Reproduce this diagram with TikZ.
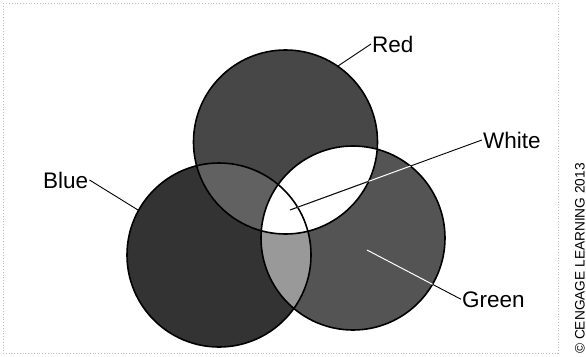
\documentclass[tikz,border=0pt]{standalone}
\usepackage{fontspec}
\setmainfont{Liberation Sans}
\begin{document}
\begin{tikzpicture}[x=1pt,y=-1pt,
  outline/.style={draw=black,line width=1.6pt},
  leader/.style={draw=black,line width=0.9pt},
  leaderw/.style={draw=white,line width=1.1pt},
  lbl/.style={inner sep=1pt,font=\fontsize{22.5}{27}\selectfont,anchor=base west}]
\useasboundingbox (0,0) rectangle (586,356);
\definecolor{blueonly}{gray}{0.2}
\definecolor{redonly}{gray}{0.28}
\definecolor{greenonly}{gray}{0.33}
\definecolor{redblue}{gray}{0.38}
\definecolor{greenblue}{gray}{0.6}
% faint scan border
\draw[black!25,dotted,line width=0.8pt] (3,3) rectangle (558,353);
% circles
\def\rC{(285.5,142) circle[radius=92]}
\def\bC{(219,255) circle[radius=92]}
\def\gC{(353,238) circle[radius=92]}
\fill[blueonly] \bC;
\fill[greenonly] \gC;
\fill[redonly] \rC;
\begin{scope}
  \clip \rC;
  \fill[redblue] \bC;
\end{scope}
\begin{scope}
  \clip \gC;
  \fill[greenblue] \bC;
\end{scope}
\begin{scope}
  \clip \rC;
  \clip \gC;
  \fill[white] (150,40) rectangle (450,340);
\end{scope}
\draw[outline] \rC;
\draw[outline] \bC;
\draw[outline] \gC;
% labels
\node[lbl] (red) at (371,52) {Red};
\node[lbl] (blue) at (42,188) {Blue};
\node[lbl] (white) at (482,148) {White};
\node[lbl] (green) at (461,307) {Green};
\node[inner sep=0pt,rotate=90,anchor=base west,font=\fontsize{13.7}{16}\selectfont] (copy) at (584.5,354) {© CENGAGE LEARNING 2013};
% leader ends
\coordinate (redend) at (338,66);
\coordinate (blueend) at (138,210);
\coordinate (whiteend) at (290,210);
\coordinate (greenend) at (367,250);
\draw[leader] (red.west) -- (redend);
\draw[leader] (blue.east) -- (blueend);
\draw[leader] (white.west) -- (whiteend);
\draw[leader] (green.west) -- (greenend);
\begin{scope}
  \clip \gC;
  \draw[leaderw] (white.west) -- (whiteend);
  \draw[leaderw] (green.west) -- (greenend);
\end{scope}
\begin{scope}
  \clip \rC;
  \draw[leader] (white.west) -- (whiteend);
\end{scope}
\end{tikzpicture}
\end{document}
